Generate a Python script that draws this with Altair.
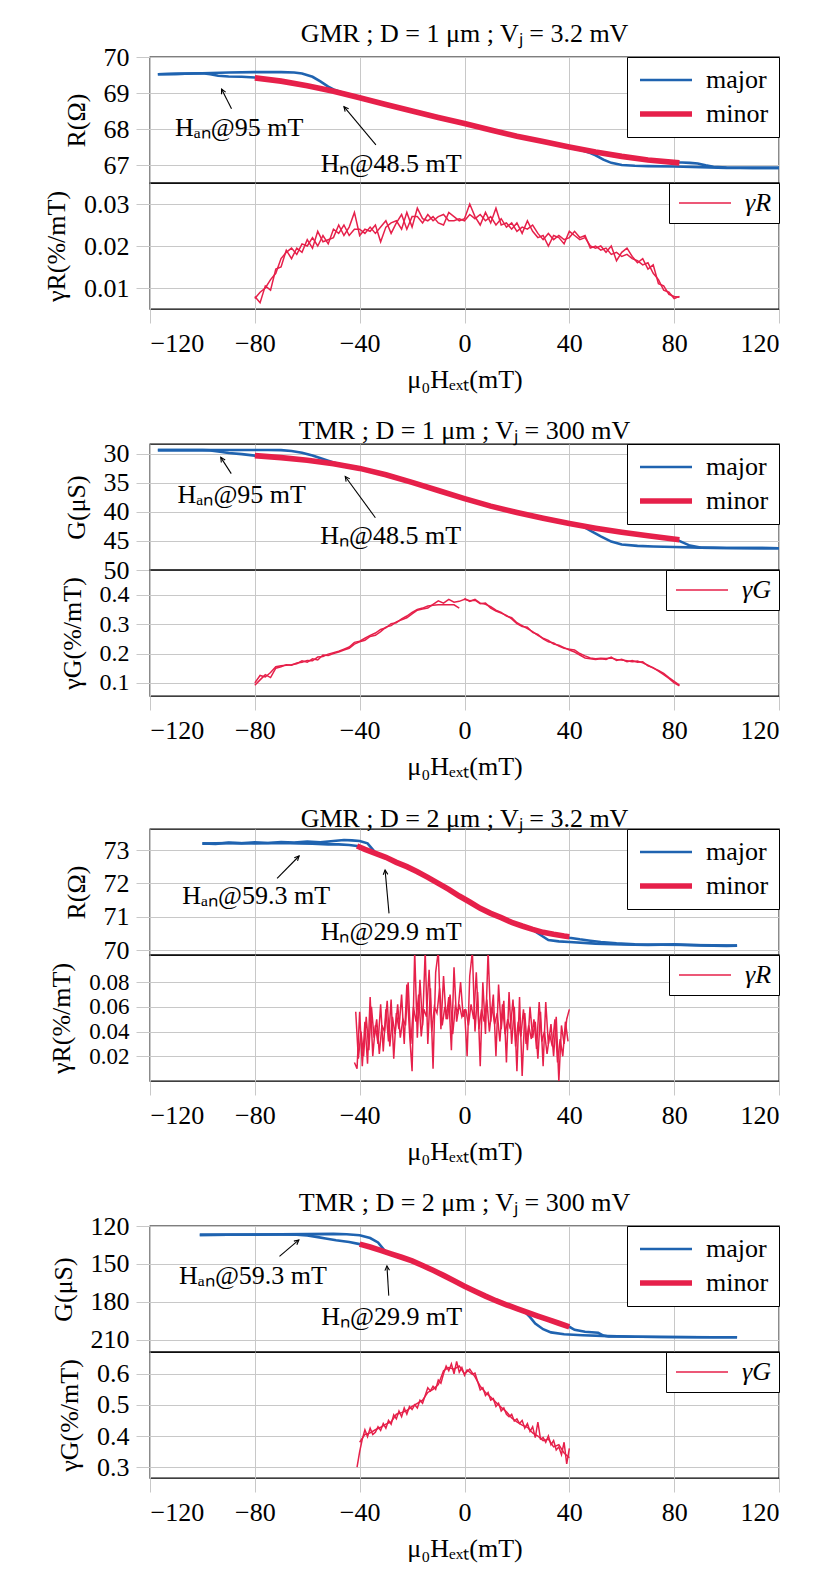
import math
import altair as alt
import pandas as pd

FONT = "Liberation Serif"
FS = 26
BLUE = "#1f63b0"
RED = "#e6204a"
GRID = "#c8c8c8"
W, H = 629, 126
X_DOMAIN = [-120, 120]
X_TICKS = [-120, -80, -40, 0, 40, 80, 120]
X_TITLE = "μ₀Hₑₓₜ(mT)"

# ---------------- Panel 1 : GMR, D = 1 um ----------------
p1_title = "GMR ; D = 1 μm ; Vⱼ = 3.2 mV"
p1_maj_a_x = [-117, -110, -100, -90, -80, -70, -65, -62, -58, -55, -52, -50, -45, -40, -30, -20, -10, 0, 10, 20, 30, 40, 45, 48, 50, 53, 56, 60, 65, 70, 80, 90, 100, 110, 120]
p1_maj_a_y = [69.52, 69.53, 69.55, 69.57, 69.58, 69.58, 69.57, 69.54, 69.45, 69.32, 69.18, 69.10, 68.97, 68.86, 68.68, 68.50, 68.32, 68.15, 67.97, 67.80, 67.65, 67.48, 67.40, 67.33, 67.27, 67.15, 67.06, 67.00, 66.98, 66.97, 66.96, 66.94, 66.92, 66.92, 66.92]
p1_maj_b_x = [120, 110, 100, 95, 92, 89, 86, 83, 80, 70, 60, 50, 40, 30, 20, 10, 0, -10, -20, -30, -40, -50, -60, -70, -76, -80, -85, -90, -94, -97, -100, -110, -117]
p1_maj_b_y = [66.92, 66.92, 66.93, 66.95, 66.99, 67.04, 67.06, 67.07, 67.07, 67.14, 67.24, 67.36, 67.50, 67.65, 67.80, 67.97, 68.15, 68.32, 68.50, 68.68, 68.87, 69.05, 69.20, 69.33, 69.40, 69.43, 69.45, 69.46, 69.48, 69.52, 69.55, 69.53, 69.52]
p1_min_x = [-80, -70, -60, -50, -40, -30, -20, -10, 0, 10, 20, 30, 40, 50, 60, 70, 82]
p1_min_y = [69.42, 69.33, 69.20, 69.05, 68.87, 68.68, 68.50, 68.32, 68.15, 67.97, 67.80, 67.65, 67.50, 67.36, 67.24, 67.14, 67.06]
p1_g_x = [-80, -78, -76, -74, -72, -70, -68, -66, -64, -62, -60, -58, -56, -54, -52, -50, -48, -46, -44, -42, -40, -38, -36, -34, -32, -30, -28, -26, -24, -22, -20, -18, -16, -14, -12, -10, -8, -6, -4, -2, 0, 2, 4, 6, 8, 10, 12, 14, 16, 18, 20, 22, 24, 26, 28, 30, 32, 34, 36, 38, 40, 42, 44, 46, 48, 50, 52, 54, 56, 58, 60, 62, 64, 66, 68, 70, 72, 74, 76, 78, 80, 82]
p1_g_a = [0.0080, 0.0065, 0.0105, 0.0095, 0.0145, 0.0150, 0.0190, 0.0170, 0.0195, 0.0185, 0.0215, 0.0195, 0.0235, 0.0210, 0.0215, 0.0220, 0.0250, 0.0225, 0.0245, 0.0280, 0.0225, 0.0240, 0.0235, 0.0250, 0.0210, 0.0245, 0.0255, 0.0260, 0.0240, 0.0280, 0.0245, 0.0290, 0.0265, 0.0260, 0.0270, 0.0255, 0.0250, 0.0280, 0.0270, 0.0260, 0.0265, 0.0300, 0.0270, 0.0250, 0.0280, 0.0255, 0.0290, 0.0250, 0.0255, 0.0240, 0.0255, 0.0230, 0.0260, 0.0235, 0.0220, 0.0225, 0.0200, 0.0225, 0.0220, 0.0205, 0.0235, 0.0225, 0.0215, 0.0220, 0.0200, 0.0195, 0.0200, 0.0185, 0.0200, 0.0165, 0.0185, 0.0195, 0.0175, 0.0160, 0.0170, 0.0145, 0.0155, 0.0110, 0.0105, 0.0085, 0.0080, 0.0078]
p1_g_b = [0.0075, 0.0090, 0.0100, 0.0120, 0.0135, 0.0170, 0.0185, 0.0195, 0.0180, 0.0205, 0.0200, 0.0220, 0.0200, 0.0225, 0.0205, 0.0240, 0.0230, 0.0250, 0.0225, 0.0240, 0.0240, 0.0230, 0.0245, 0.0230, 0.0245, 0.0260, 0.0230, 0.0255, 0.0275, 0.0240, 0.0270, 0.0270, 0.0255, 0.0275, 0.0260, 0.0270, 0.0275, 0.0260, 0.0260, 0.0265, 0.0260, 0.0275, 0.0265, 0.0275, 0.0260, 0.0270, 0.0250, 0.0265, 0.0245, 0.0255, 0.0235, 0.0245, 0.0240, 0.0250, 0.0230, 0.0215, 0.0230, 0.0215, 0.0225, 0.0215, 0.0220, 0.0235, 0.0220, 0.0225, 0.0195, 0.0200, 0.0190, 0.0195, 0.0180, 0.0185, 0.0175, 0.0180, 0.0170, 0.0165, 0.0155, 0.0160, 0.0135, 0.0120, 0.0095, 0.0090, 0.0075, 0.0080]

# ---------------- Panel 2 : TMR, D = 1 um ----------------
p2_title = "TMR ; D = 1 μm ; Vⱼ = 300 mV"
p2_maj_a_x = [-117, -100, -85, -75, -70, -66, -62, -58, -54, -50, -40, -30, -20, -10, 0, 10, 20, 30, 40, 45, 48, 52, 56, 60, 66, 72, 80, 90, 100, 120]
p2_maj_a_y = [29.35, 29.35, 29.33, 29.33, 29.35, 29.50, 29.80, 30.30, 30.90, 31.50, 32.60, 33.60, 34.90, 36.30, 37.70, 39.00, 40.10, 41.10, 42.00, 42.45, 43.20, 44.20, 45.10, 45.60, 45.85, 45.95, 46.05, 46.15, 46.20, 46.25]
p2_maj_b_x = [120, 100, 90, 86, 83, 81, 70, 60, 50, 40, 30, 20, 10, 0, -10, -20, -30, -40, -50, -60, -70, -80, -85, -90, -94, -97, -100, -117]
p2_maj_b_y = [46.25, 46.20, 46.15, 45.80, 45.20, 44.80, 44.10, 43.50, 42.80, 42.00, 41.10, 40.10, 39.00, 37.70, 36.30, 34.90, 33.60, 32.50, 31.70, 31.10, 30.65, 30.30, 30.05, 29.85, 29.60, 29.40, 29.35, 29.35]
p2_min_x = [-80, -70, -60, -50, -40, -30, -20, -10, 0, 10, 20, 30, 40, 50, 60, 70, 82]
p2_min_y = [30.30, 30.65, 31.10, 31.70, 32.50, 33.60, 34.90, 36.30, 37.70, 39.00, 40.10, 41.10, 42.00, 42.80, 43.50, 44.10, 44.80]
p2_g_a_x = p1_g_x
p2_g_a = [0.100, 0.125, 0.120, 0.135, 0.155, 0.158, 0.160, 0.162, 0.165, 0.175, 0.170, 0.182, 0.178, 0.195, 0.193, 0.200, 0.205, 0.212, 0.218, 0.232, 0.240, 0.245, 0.258, 0.262, 0.275, 0.290, 0.295, 0.308, 0.315, 0.322, 0.335, 0.348, 0.352, 0.355, 0.368, 0.380, 0.372, 0.385, 0.375, 0.378, 0.385, 0.380, 0.382, 0.370, 0.372, 0.355, 0.345, 0.338, 0.330, 0.318, 0.302, 0.292, 0.290, 0.272, 0.265, 0.250, 0.240, 0.236, 0.225, 0.218, 0.215, 0.212, 0.200, 0.192, 0.185, 0.182, 0.184, 0.183, 0.185, 0.180, 0.178, 0.175, 0.172, 0.174, 0.168, 0.160, 0.150, 0.142, 0.132, 0.118, 0.105, 0.092]
p2_g_b_x = [-80, -78, -76, -74, -72, -70, -68, -66, -64, -62, -60, -58, -56, -54, -52, -50, -48, -46, -44, -42, -40, -38, -36, -34, -32, -30, -28, -26, -24, -22, -20, -18, -16, -14, -12, -10, -8, -6, -4, -2]
p2_g_b = [0.092, 0.110, 0.128, 0.118, 0.150, 0.155, 0.162, 0.160, 0.168, 0.170, 0.176, 0.175, 0.188, 0.190, 0.198, 0.203, 0.208, 0.215, 0.222, 0.238, 0.242, 0.252, 0.262, 0.270, 0.282, 0.288, 0.302, 0.305, 0.318, 0.328, 0.340, 0.350, 0.355, 0.362, 0.365, 0.366, 0.366, 0.366, 0.366, 0.355]
p2_g_c_x = [0, 2, 4, 6, 8, 10, 12, 14, 16, 18, 20, 22, 24, 26, 28, 30, 32, 34, 36, 38, 40, 42, 44, 46, 48, 50, 52, 54, 56, 58, 60, 62, 64, 66, 68, 70, 72, 74, 76, 78, 80, 82]
p2_g_c = [0.388, 0.378, 0.385, 0.372, 0.368, 0.360, 0.348, 0.340, 0.328, 0.322, 0.305, 0.295, 0.285, 0.275, 0.262, 0.252, 0.245, 0.232, 0.228, 0.220, 0.212, 0.205, 0.195, 0.185, 0.182, 0.180, 0.182, 0.180, 0.188, 0.176, 0.180, 0.172, 0.176, 0.170, 0.172, 0.158, 0.152, 0.140, 0.128, 0.115, 0.100, 0.090]

# ---------------- Panel 3 : GMR, D = 2 um ----------------
p3_title = "GMR ; D = 2 μm ; Vⱼ = 3.2 mV"
p3_maj_a_x = [-100, -95, -90, -85, -80, -75, -70, -65, -60, -55, -50, -46, -43, -40, -37, -34, -30, -26, -22, -18, -14, -10, -6, -2, 2, 6, 10, 14, 18, 22, 26, 29, 32, 36, 40, 50, 60, 70, 80, 90, 100, 104]
p3_maj_a_y = [73.20, 73.18, 73.22, 73.20, 73.23, 73.21, 73.24, 73.22, 73.25, 73.23, 73.27, 73.30, 73.29, 73.27, 73.20, 72.92, 72.78, 72.63, 72.50, 72.35, 72.18, 72.00, 71.82, 71.62, 71.44, 71.25, 71.10, 70.97, 70.83, 70.72, 70.60, 70.45, 70.30, 70.26, 70.24, 70.19, 70.17, 70.15, 70.17, 70.14, 70.12, 70.13]
p3_maj_b_x = [104, 95, 85, 75, 65, 58, 52, 48, 44, 40, 38, 34, 30, 26, 22, 18, 14, 10, 6, 2, -2, -6, -10, -14, -18, -22, -26, -30, -34, -38, -41, -44, -48, -52, -58, -63, -70, -80, -90, -100]
p3_maj_b_y = [70.13, 70.14, 70.15, 70.16, 70.17, 70.20, 70.24, 70.28, 70.32, 70.37, 70.42, 70.47, 70.53, 70.62, 70.72, 70.83, 70.97, 71.10, 71.25, 71.44, 71.62, 71.82, 72.00, 72.18, 72.35, 72.50, 72.63, 72.78, 72.90, 73.02, 73.12, 73.15, 73.17, 73.17, 73.19, 73.20, 73.21, 73.20, 73.21, 73.19]
p3_min_x = [-41, -38, -34, -30, -26, -22, -18, -14, -10, -6, -2, 2, 6, 10, 14, 18, 22, 26, 30, 34, 38, 40]
p3_min_y = [73.12, 73.02, 72.90, 72.78, 72.63, 72.50, 72.35, 72.18, 72.00, 71.82, 71.62, 71.44, 71.25, 71.10, 70.97, 70.83, 70.72, 70.62, 70.53, 70.47, 70.42, 70.40]
p3_g_a_x = [-42, -41, -40, -39, -38, -37, -36, -35, -34, -33, -32, -31, -30, -29, -28, -27, -26, -25, -24, -23, -22, -21, -20, -19, -18, -17, -16, -15, -14, -13, -12, -11, -10, -9, -8, -7, -6, -5, -4, -3, -2, -1, 0, 1, 2, 3, 4, 5, 6, 7, 8, 9, 10, 11, 12, 13, 14, 15, 16, 17, 18, 19, 20, 21, 22, 23, 24, 25, 26, 27, 28, 29, 30, 31, 32, 33, 34, 35, 36, 37, 38, 39, 40]
p3_g_a = [0.015, 0.010, 0.056, 0.012, 0.048, 0.014, 0.068, 0.020, 0.045, 0.030, 0.062, 0.024, 0.058, 0.032, 0.066, 0.018, 0.055, 0.042, 0.070, 0.030, 0.078, 0.040, 0.008, 0.105, 0.035, 0.082, 0.045, 0.105, 0.030, 0.075, 0.010, 0.088, 0.105, 0.042, 0.085, 0.050, 0.068, 0.025, 0.092, 0.048, 0.062, 0.052, 0.058, 0.020, 0.085, 0.105, 0.040, 0.072, 0.012, 0.080, 0.038, 0.105, 0.048, 0.070, 0.020, 0.078, 0.042, 0.065, 0.015, 0.072, 0.030, 0.060, 0.008, 0.068, 0.004, 0.055, 0.025, 0.060, 0.035, 0.048, 0.018, 0.056, 0.012, 0.064, 0.030, 0.046, 0.020, 0.052, 0.000, 0.045, 0.030, 0.050, 0.058]
p3_g_b_x = [-41.5, -40.5, -39.5, -38.5, -37.5, -36.5, -35.5, -34.5, -33.5, -32.5, -31.5, -30.5, -29.5, -28.5, -27.5, -26.5, -25.5, -24.5, -23.5, -22.5, -21.5, -20.5, -19.5, -18.5, -17.5, -16.5, -15.5, -14.5, -13.5, -12.5, -11.5, -10.5, -9.5, -8.5, -7.5, -6.5, -5.5, -4.5, -3.5, -2.5, -1.5, -0.5, 0.5, 1.5, 2.5, 3.5, 4.5, 5.5, 6.5, 7.5, 8.5, 9.5, 10.5, 11.5, 12.5, 13.5, 14.5, 15.5, 16.5, 17.5, 18.5, 19.5, 20.5, 21.5, 22.5, 23.5, 24.5, 25.5, 26.5, 27.5, 28.5, 29.5, 30.5, 31.5, 32.5, 33.5, 34.5, 35.5, 36.5, 37.5, 38.5, 39.5]
p3_g_b = [0.056, 0.018, 0.040, 0.020, 0.052, 0.025, 0.060, 0.035, 0.050, 0.022, 0.045, 0.040, 0.065, 0.028, 0.052, 0.038, 0.062, 0.035, 0.050, 0.045, 0.080, 0.030, 0.060, 0.048, 0.070, 0.036, 0.058, 0.052, 0.090, 0.040, 0.060, 0.055, 0.075, 0.045, 0.060, 0.050, 0.070, 0.038, 0.060, 0.056, 0.080, 0.052, 0.058, 0.045, 0.062, 0.050, 0.088, 0.042, 0.058, 0.048, 0.066, 0.040, 0.060, 0.046, 0.055, 0.032, 0.062, 0.038, 0.050, 0.042, 0.066, 0.028, 0.048, 0.036, 0.058, 0.030, 0.045, 0.034, 0.050, 0.026, 0.064, 0.032, 0.040, 0.022, 0.038, 0.028, 0.050, 0.015, 0.034, 0.020, 0.048, 0.032]

# ---------------- Panel 4 : TMR, D = 2 um ----------------
p4_title = "TMR ; D = 2 μm ; Vⱼ = 300 mV"
p4_maj_a_x = [-101, -90, -80, -70, -60, -50, -45, -40, -36, -33, -31, -30, -25, -20, -15, -10, -5, 0, 5, 10, 15, 20, 23, 25, 27, 30, 33, 38, 45, 55, 65, 80, 95, 104]
p4_maj_a_y = [127.0, 126.8, 126.7, 126.6, 126.4, 126.2, 126.5, 127.3, 129.5, 133.0, 138.0, 140.3, 143.8, 147.6, 152.5, 157.8, 162.8, 167.5, 172.2, 176.6, 181.0, 185.2, 187.7, 192.0, 197.0, 201.5, 204.0, 205.5, 206.3, 207.0, 207.4, 207.7, 207.9, 207.9]
p4_maj_b_x = [104, 90, 75, 60, 55, 53, 51, 46, 42, 40, 36, 32, 28, 24, 20, 16, 12, 8, 4, 0, -4, -8, -12, -16, -20, -24, -28, -32, -36, -40, -44, -49, -53, -56.5, -60, -64, -70, -80, -90, -101]
p4_maj_b_y = [207.9, 207.8, 207.6, 207.3, 207.2, 206.5, 204.3, 203.5, 202.0, 199.6, 196.8, 194.0, 191.2, 188.3, 185.2, 182.2, 179.0, 175.4, 171.5, 167.5, 163.2, 159.0, 155.0, 151.2, 147.5, 144.7, 142.0, 139.2, 136.6, 134.3, 132.6, 131.2, 129.8, 128.6, 127.5, 126.8, 126.7, 126.8, 126.9, 127.0]
p4_min_x = [-40, -36, -32, -28, -24, -20, -16, -12, -8, -4, 0, 4, 8, 12, 16, 20, 24, 28, 32, 36, 40]
p4_min_y = [134.3, 136.6, 139.2, 142.0, 144.7, 147.5, 151.2, 155.0, 159.0, 163.2, 167.5, 171.5, 175.4, 179.0, 182.2, 185.2, 188.3, 191.2, 194.0, 196.8, 199.6]
p4_g_a_x = [-41, -40, -39, -38, -37, -36, -35, -34, -33, -32, -31, -30, -29, -28, -27, -26, -25, -24, -23, -22, -21, -20, -19, -18, -17, -16, -15, -14, -13, -12, -11, -10, -9, -8, -7, -6, -5, -4, -3, -2, -1, 0, 1, 2, 3, 4, 5, 6, 7, 8, 9, 10, 11, 12, 13, 14, 15, 16, 17, 18, 19, 20, 21, 22, 23, 24, 25, 26, 27, 28, 29, 30, 31, 32, 33, 34, 35, 36, 37, 38, 39, 40]
p4_g_a = [0.300, 0.350, 0.390, 0.420, 0.398, 0.425, 0.405, 0.412, 0.430, 0.418, 0.440, 0.425, 0.450, 0.438, 0.468, 0.455, 0.480, 0.462, 0.490, 0.470, 0.495, 0.485, 0.500, 0.490, 0.515, 0.505, 0.530, 0.555, 0.545, 0.560, 0.550, 0.580, 0.570, 0.600, 0.625, 0.610, 0.632, 0.600, 0.640, 0.605, 0.620, 0.595, 0.612, 0.605, 0.598, 0.602, 0.575, 0.548, 0.555, 0.530, 0.540, 0.515, 0.520, 0.495, 0.505, 0.480, 0.490, 0.470, 0.462, 0.470, 0.448, 0.455, 0.440, 0.450, 0.425, 0.440, 0.415, 0.430, 0.395, 0.445, 0.390, 0.395, 0.380, 0.400, 0.372, 0.385, 0.355, 0.365, 0.340, 0.380, 0.310, 0.360]
p4_g_b_x = [-40, -38, -36, -34, -32, -30, -28, -26, -24, -22, -20, -18, -16, -14, -12, -10, -8, -6, -4, -2, 0, 2, 4, 6, 8, 10, 12, 14, 16, 18, 20, 22, 24, 26, 28, 30, 32, 34, 36, 38, 40]
p4_g_b = [0.380, 0.405, 0.410, 0.420, 0.428, 0.438, 0.445, 0.470, 0.475, 0.482, 0.495, 0.505, 0.515, 0.540, 0.550, 0.565, 0.610, 0.620, 0.615, 0.625, 0.600, 0.615, 0.590, 0.560, 0.540, 0.525, 0.508, 0.492, 0.478, 0.458, 0.445, 0.435, 0.428, 0.410, 0.400, 0.385, 0.390, 0.365, 0.372, 0.345, 0.330]

# annotation texts and anchor points (text centre, arrow tail, arrow tip) in data units
NOTES = {
    1: [("Hₐₙ@95 mT", -86.0, 68.02, -88.9, 68.56, -92.7, 69.11),
        ("Hₙ@48.5 mT", -28.0, 67.03, -33.8, 67.56, -46.0, 68.62)],
    2: [("Hₐₙ@95 mT", -85.0, 37.1, -89.0, 33.4, -93.0, 30.6),
        ("Hₙ@48.5 mT", -28.2, 44.2, -34.0, 41.0, -45.5, 33.9)],
    3: [("Hₐₙ@59.3 mT", -79.5, 71.62, -71.5, 72.15, -63.1, 72.82),
        ("Hₙ@29.9 mT", -28.0, 70.55, -28.8, 71.10, -30.3, 72.40)],
    4: [("Hₐₙ@59.3 mT", -80.7, 159.5, -70.6, 144.0, -63.2, 131.0),
        ("Hₙ@29.9 mT", -27.8, 191.5, -28.9, 175.0, -29.6, 151.5)],
}

ARROW = "M-0.55,1.1L0,0L0.55,1.1"
LINE_SYMBOL = "M-1,0L4.2,0"


def line_df(branches):
    rows = []
    for name, xs, ys in branches:
        for i, (x, y) in enumerate(zip(xs, ys)):
            rows.append({"x": x, "y": y, "branch": name, "i": i})
    return pd.DataFrame(rows)


def xscale():
    return alt.Scale(domain=X_DOMAIN, nice=False, zero=False)


def top_panel(title, ydom, yticks, yrev, ytitle, major, minor, notes):
    ysc = alt.Scale(domain=ydom, nice=False, zero=False, reverse=yrev)
    xax = alt.Axis(values=X_TICKS, labels=False, ticks=False, title=None, domain=False)
    yax = alt.Axis(values=yticks, format="d", title=ytitle)
    leg = alt.Legend(title=None, orient="top-right", offset=0, padding=10,
                     strokeColor="black", fillColor="white", cornerRadius=0,
                     symbolType=LINE_SYMBOL, symbolSize=400, labelOffset=43,
                     rowPadding=8, labelFont=FONT, labelFontSize=FS, labelColor="black")
    cscale = alt.Scale(domain=["major", "minor"], range=[BLUE, RED])
    wscale = alt.Scale(domain=["major", "minor"], range=[2.6, 5.6])

    dM = line_df(major)
    dM["curve"] = "major"
    dm = line_df(minor)
    dm["curve"] = "minor"

    def lines(df):
        return alt.Chart(df).mark_line(clip=True).encode(
            x=alt.X("x:Q", scale=xscale(), axis=xax),
            y=alt.Y("y:Q", scale=ysc, axis=yax),
            color=alt.Color("curve:N", scale=cscale, legend=leg),
            strokeWidth=alt.StrokeWidth("curve:N", scale=wscale, legend=leg),
            detail="branch:N",
            order="i:Q",
        )

    sx = W / 240.0
    sy = H / float(ydom[1] - ydom[0])
    rows = []
    for lab, tx, ty, x0, y0, x1, y1 in notes:
        dxs = (x1 - x0) * sx
        dys = (y1 - y0) * sy * (1 if yrev else -1)
        ang = math.degrees(math.atan2(dxs, -dys)) % 360
        rows.append({"label": lab, "tx": tx, "ty": ty, "x0": x0, "y0": y0,
                     "x1": x1, "y1": y1, "ang": ang})
    nd = pd.DataFrame(rows)
    base = alt.Chart(nd)
    rule = base.mark_rule(color="black", strokeWidth=1.1).encode(
        x=alt.X("x0:Q", scale=xscale(), axis=xax), y=alt.Y("y0:Q", scale=ysc, axis=yax),
        x2="x1:Q", y2="y1:Q")
    head = base.mark_point(shape=ARROW, size=70, filled=False, color="black",
                           strokeWidth=1.1, opacity=1).encode(
        x=alt.X("x1:Q", scale=xscale(), axis=xax), y=alt.Y("y1:Q", scale=ysc, axis=yax),
        angle=alt.Angle("ang:Q", scale=None))
    text = base.mark_text(font=FONT, fontSize=FS, color="black").encode(
        x=alt.X("tx:Q", scale=xscale(), axis=xax), y=alt.Y("ty:Q", scale=ysc, axis=yax),
        text="label:N")

    return alt.layer(lines(dM), lines(dm), rule, head, text).properties(
        width=W, height=H,
        title=alt.TitleParams(text=title, font=FONT, fontSize=FS, fontWeight="normal",
                              color="black", anchor="middle", offset=-3))


def bottom_panel(label, ydom, yticks, yfmt, ytitle, branches, yfs=FS):
    df = line_df(branches)
    df["s"] = label
    leg = alt.Legend(title=None, orient="top-right", offset=0, padding=7,
                     strokeColor="black", fillColor="white", cornerRadius=0,
                     symbolType=LINE_SYMBOL, symbolSize=400, labelOffset=43,
                     symbolStrokeWidth=1.5, labelFont=FONT, labelFontSize=FS,
                     labelFontStyle="italic", labelColor="black")
    return alt.Chart(df).mark_line(strokeWidth=1.5, clip=True).encode(
        x=alt.X("x:Q", scale=xscale(),
                axis=alt.Axis(values=X_TICKS, format="d", title=X_TITLE)),
        y=alt.Y("y:Q", scale=alt.Scale(domain=ydom, nice=False, zero=False),
                axis=alt.Axis(values=yticks, format=yfmt, title=ytitle, labelFontSize=yfs)),
        color=alt.Color("s:N", scale=alt.Scale(domain=[label], range=[RED]), legend=leg),
        detail="branch:N",
        order="i:Q",
    ).properties(width=W, height=H)


def group(top, bottom):
    return alt.vconcat(top, bottom, spacing=0, bounds="flush").resolve_scale(
        color="independent", strokeWidth="independent")


g1 = group(
    top_panel(p1_title, [66.5, 70.0], [67, 68, 69, 70], False, "R(Ω)",
              [("a", p1_maj_a_x, p1_maj_a_y), ("b", p1_maj_b_x, p1_maj_b_y)],
              [("m", p1_min_x, p1_min_y)], NOTES[1]),
    bottom_panel("γR", [0.005, 0.035], [0.01, 0.02, 0.03], ".2f", "γR(%/mT)",
                 [("a", p1_g_x, p1_g_a), ("b", p1_g_x, p1_g_b)]))

g2 = group(
    top_panel(p2_title, [28.3, 50.0], [30, 35, 40, 45, 50], True, "G(μS)",
              [("a", p2_maj_a_x, p2_maj_a_y), ("b", p2_maj_b_x, p2_maj_b_y)],
              [("m", p2_min_x, p2_min_y)], NOTES[2]),
    bottom_panel("γG", [0.055, 0.485], [0.1, 0.2, 0.3, 0.4], ".1f", "γG(%/mT)",
                 [("a", p2_g_a_x, p2_g_a), ("b", p2_g_b_x, p2_g_b), ("c", p2_g_c_x, p2_g_c)],
                 yfs=24))

g3 = group(
    top_panel(p3_title, [69.85, 73.63], [70, 71, 72, 73], False, "R(Ω)",
              [("a", p3_maj_a_x, p3_maj_a_y), ("b", p3_maj_b_x, p3_maj_b_y)],
              [("m", p3_min_x, p3_min_y)], NOTES[3]),
    bottom_panel("γR", [0.0, 0.102], [0.02, 0.04, 0.06, 0.08], ".2f", "γR(%/mT)",
                 [("a", p3_g_a_x, p3_g_a), ("b", p3_g_b_x, p3_g_b)], yfs=23))

g4 = group(
    top_panel(p4_title, [120.0, 219.5], [120, 150, 180, 210], True, "G(μS)",
              [("a", p4_maj_a_x, p4_maj_a_y), ("b", p4_maj_b_x, p4_maj_b_y)],
              [("m", p4_min_x, p4_min_y)], NOTES[4]),
    bottom_panel("γG", [0.265, 0.67], [0.3, 0.4, 0.5, 0.6], ".1f", "γG(%/mT)",
                 [("a", p4_g_a_x, p4_g_a), ("b", p4_g_b_x, p4_g_b)]))

chart = alt.ConcatChart(concat=[g1, g2, g3, g4], columns=1, spacing=24).resolve_scale(
    color="independent", strokeWidth="independent"
).properties(
    padding={"left": 34, "top": 12, "right": 5, "bottom": 5}
).configure(font=FONT).configure_view(
    stroke="black", strokeWidth=1.3
).configure_axis(
    labelFont=FONT, labelFontSize=FS, titleFont=FONT, titleFontSize=FS,
    titleFontWeight="normal", labelColor="black", titleColor="black",
    gridColor=GRID, gridWidth=1, tickColor=GRID, tickSize=14, tickWidth=1,
    domain=False, labelPadding=7, titlePadding=10, labelOverlap=False
).configure_axisY(titlePadding=14)

chart.save("out.html", embed_options={"renderer": "svg", "actions": False})
